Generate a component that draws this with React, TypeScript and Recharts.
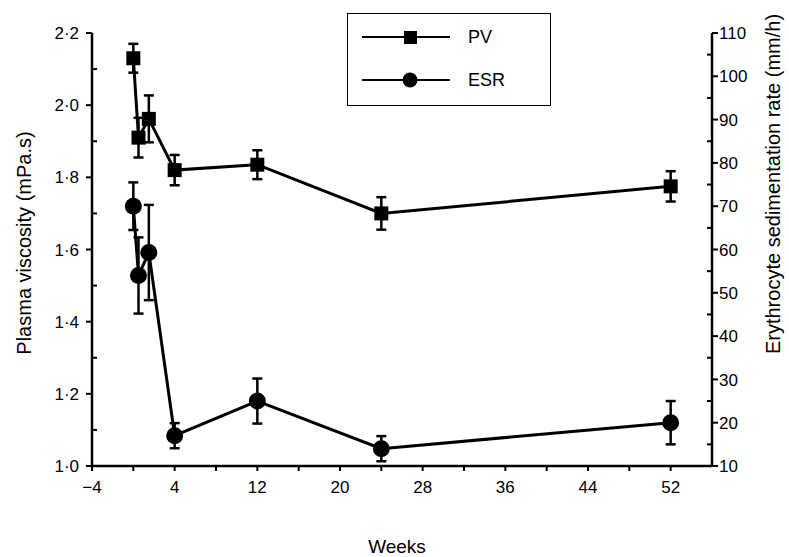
import React from 'react';
import { ComposedChart, Line, XAxis, YAxis, ErrorBar, Legend } from 'recharts';

const weeks = [0, 0.5, 1.5, 4, 12, 24, 52];
const pvValues = [2.13, 1.91, 1.962, 1.82, 1.835, 1.70, 1.775];
const pvErrors = [0.04, 0.055, 0.065, 0.042, 0.04, 0.045, 0.042];
const esrValues = [70, 54, 59.3, 17, 25, 14, 20];
const esrErrors = [5.5, 8.8, 11, 2.9, 5.2, 2.9, 5];

const weekTicks = [-4, 4, 12, 20, 28, 36, 44, 52];
const weekMinorTicks = [0, 8, 16, 24, 32, 40, 48];
const pvTicks = [1.0, 1.2, 1.4, 1.6, 1.8, 2.0, 2.2];
const pvMinorTicks = [1.1, 1.3, 1.5, 1.7, 1.9, 2.1];
const esrTicks = [10, 20, 30, 40, 50, 60, 70, 80, 90, 100, 110];
const esrMinorTicks = [15, 25, 35, 45, 55, 65, 75, 85, 95, 105];

const FONT = '"Liberation Sans", Arial, Helvetica, sans-serif';

const data = weeks.map((w, i) => ({
  week: w,
  pv: pvValues[i],
  pvErr: pvErrors[i],
  esr: esrValues[i],
  esrErr: esrErrors[i],
}));

const isMajor = (v: number, majors: number[]) => majors.some((m) => Math.abs(m - v) < 1e-6);
const sortNum = (a: number[]) => [...a].sort((p, q) => p - q);

const LeftTick = (props: any) => {
  const { x, y, payload } = props;
  const v = payload.value;
  const major = isMajor(v, pvTicks);
  return (
    <g>
      <line x1={major ? x - 6 : x} x2={major ? x : x + 5} y1={y} y2={y} stroke="#000" strokeWidth={2} />
      {major && (
        <text x={x - 13} y={y} dy="0.36em" textAnchor="end" fontSize={17} fill="#000" fontFamily={FONT}>
          {v.toFixed(1).replace('.', '\u00B7')}
        </text>
      )}
    </g>
  );
};

const RightTick = (props: any) => {
  const { x, y, payload } = props;
  const v = payload.value;
  const major = isMajor(v, esrTicks);
  return (
    <g>
      <line x1={major ? x : x - 5} x2={major ? x + 6 : x} y1={y} y2={y} stroke="#000" strokeWidth={2} />
      {major && (
        <text x={x + 7} y={y} dy="0.36em" textAnchor="start" fontSize={17} fill="#000" fontFamily={FONT}>
          {String(v)}
        </text>
      )}
    </g>
  );
};

const BottomTick = (props: any) => {
  const { x, y, payload } = props;
  const v = payload.value;
  const major = isMajor(v, weekTicks);
  return (
    <g>
      <line x1={x} x2={x} y1={y} y2={y + 5} stroke="#000" strokeWidth={2} />
      {major && (
        <text x={x} y={y + 21} dy="0.36em" textAnchor="middle" fontSize={17} fill="#000" fontFamily={FONT}>
          {v < 0 ? '\u2212' + Math.abs(v) : String(v)}
        </text>
      )}
    </g>
  );
};

const SquareDot = (props: any) => {
  const { cx, cy, index } = props;
  if (cx == null || cy == null) return <g key={`sq-${index}`} />;
  return <rect key={`sq-${index}`} x={cx - 7} y={cy - 7} width={14} height={14} fill="#000" />;
};

const CircleDot = (props: any) => {
  const { cx, cy, index } = props;
  if (cx == null || cy == null) return <g key={`ci-${index}`} />;
  return <circle key={`ci-${index}`} cx={cx} cy={cy} r={8.5} fill="#000" />;
};

const LegendBox = () => (
  <div
    style={{
      width: 204,
      height: 93,
      border: '1.5px solid #000',
      boxSizing: 'border-box',
      background: '#fff',
      position: 'relative',
    }}
  >
    <svg width={204} height={93} style={{ position: 'absolute', left: -1.5, top: -1.5 }}>
      <line x1={15} x2={103} y1={24} y2={24} stroke="#000" strokeWidth={2} />
      <rect x={57} y={18} width={13} height={13} fill="#000" />
      <text x={121} y={24} dy="0.36em" fontSize={18} fontFamily={FONT} fill="#000">
        PV
      </text>
      <line x1={15} x2={103} y1={67} y2={67} stroke="#000" strokeWidth={2} />
      <circle cx={63} cy={67} r={7.5} fill="#000" />
      <text x={121} y={67} dy="0.36em" fontSize={18} fontFamily={FONT} fill="#000">
        ESR
      </text>
    </svg>
  </div>
);

export default function App() {
  return (
    <div style={{ position: 'absolute', left: 0, top: 0, width: 789, height: 557, background: '#fff' }}>
      <ComposedChart
        width={789}
        height={557}
        data={data}
        margin={{ top: 33, right: 17, bottom: 41, left: 32 }}
      >
        <XAxis
          dataKey="week"
          type="number"
          domain={[-4, 56]}
          ticks={sortNum([...weekTicks, ...weekMinorTicks])}
          interval={0}
          tickSize={0}
          tickMargin={0}
          tickLine={false}
          tick={<BottomTick />}
          axisLine={{ stroke: '#000', strokeWidth: 2.5 }}
          height={50}
          allowDataOverflow
          label={{
            content: () => (
              <text x={397} y={546} dy="0.36em" textAnchor="middle" fontSize={19} fontFamily={FONT} fill="#000">
                Weeks
              </text>
            ),
          }}
        />
        <YAxis
          yAxisId="left"
          orientation="left"
          type="number"
          domain={[1.0, 2.2]}
          ticks={sortNum([...pvTicks, ...pvMinorTicks])}
          interval={0}
          tickSize={0}
          tickMargin={0}
          tickLine={false}
          tick={<LeftTick />}
          axisLine={{ stroke: '#000', strokeWidth: 2.5 }}
          width={60}
          allowDataOverflow
          label={{
            content: () => (
              <text
                x={24}
                y={243}
                dy="0.36em"
                textAnchor="middle"
                fontSize={20}
                fontFamily={FONT}
                fill="#000"
                transform="rotate(-90 24 243)"
              >
                Plasma viscosity (mPa.s)
              </text>
            ),
          }}
        />
        <YAxis
          yAxisId="right"
          orientation="right"
          type="number"
          domain={[10, 110]}
          ticks={sortNum([...esrTicks, ...esrMinorTicks])}
          interval={0}
          tickSize={0}
          tickMargin={0}
          tickLine={false}
          tick={<RightTick />}
          axisLine={{ stroke: '#000', strokeWidth: 2.5 }}
          width={60}
          allowDataOverflow
          label={{
            content: () => (
              <text
                x={773}
                y={184}
                dy="0.36em"
                textAnchor="middle"
                fontSize={20}
                fontFamily={FONT}
                fill="#000"
                transform="rotate(-90 773 184)"
              >
                Erythrocyte sedimentation rate (mm/h)
              </text>
            ),
          }}
        />
        <Legend
          layout="horizontal"
          verticalAlign="middle"
          align="center"
          wrapperStyle={{ left: 347, top: 13, width: 204, height: 93 }}
          content={() => <LegendBox />}
        />
        <Line
          yAxisId="left"
          dataKey="pv"
          name="PV"
          stroke="#000"
          strokeWidth={3}
          dot={SquareDot}
          activeDot={false}
          isAnimationActive={false}
          type="linear"
        >
          <ErrorBar dataKey="pvErr" direction="y" width={5} stroke="#000" strokeWidth={2.5} isAnimationActive={false} />
        </Line>
        <Line
          yAxisId="right"
          dataKey="esr"
          name="ESR"
          stroke="#000"
          strokeWidth={3}
          dot={CircleDot}
          activeDot={false}
          isAnimationActive={false}
          type="linear"
        >
          <ErrorBar dataKey="esrErr" direction="y" width={5} stroke="#000" strokeWidth={2.5} isAnimationActive={false} />
        </Line>
      </ComposedChart>
    </div>
  );
}
